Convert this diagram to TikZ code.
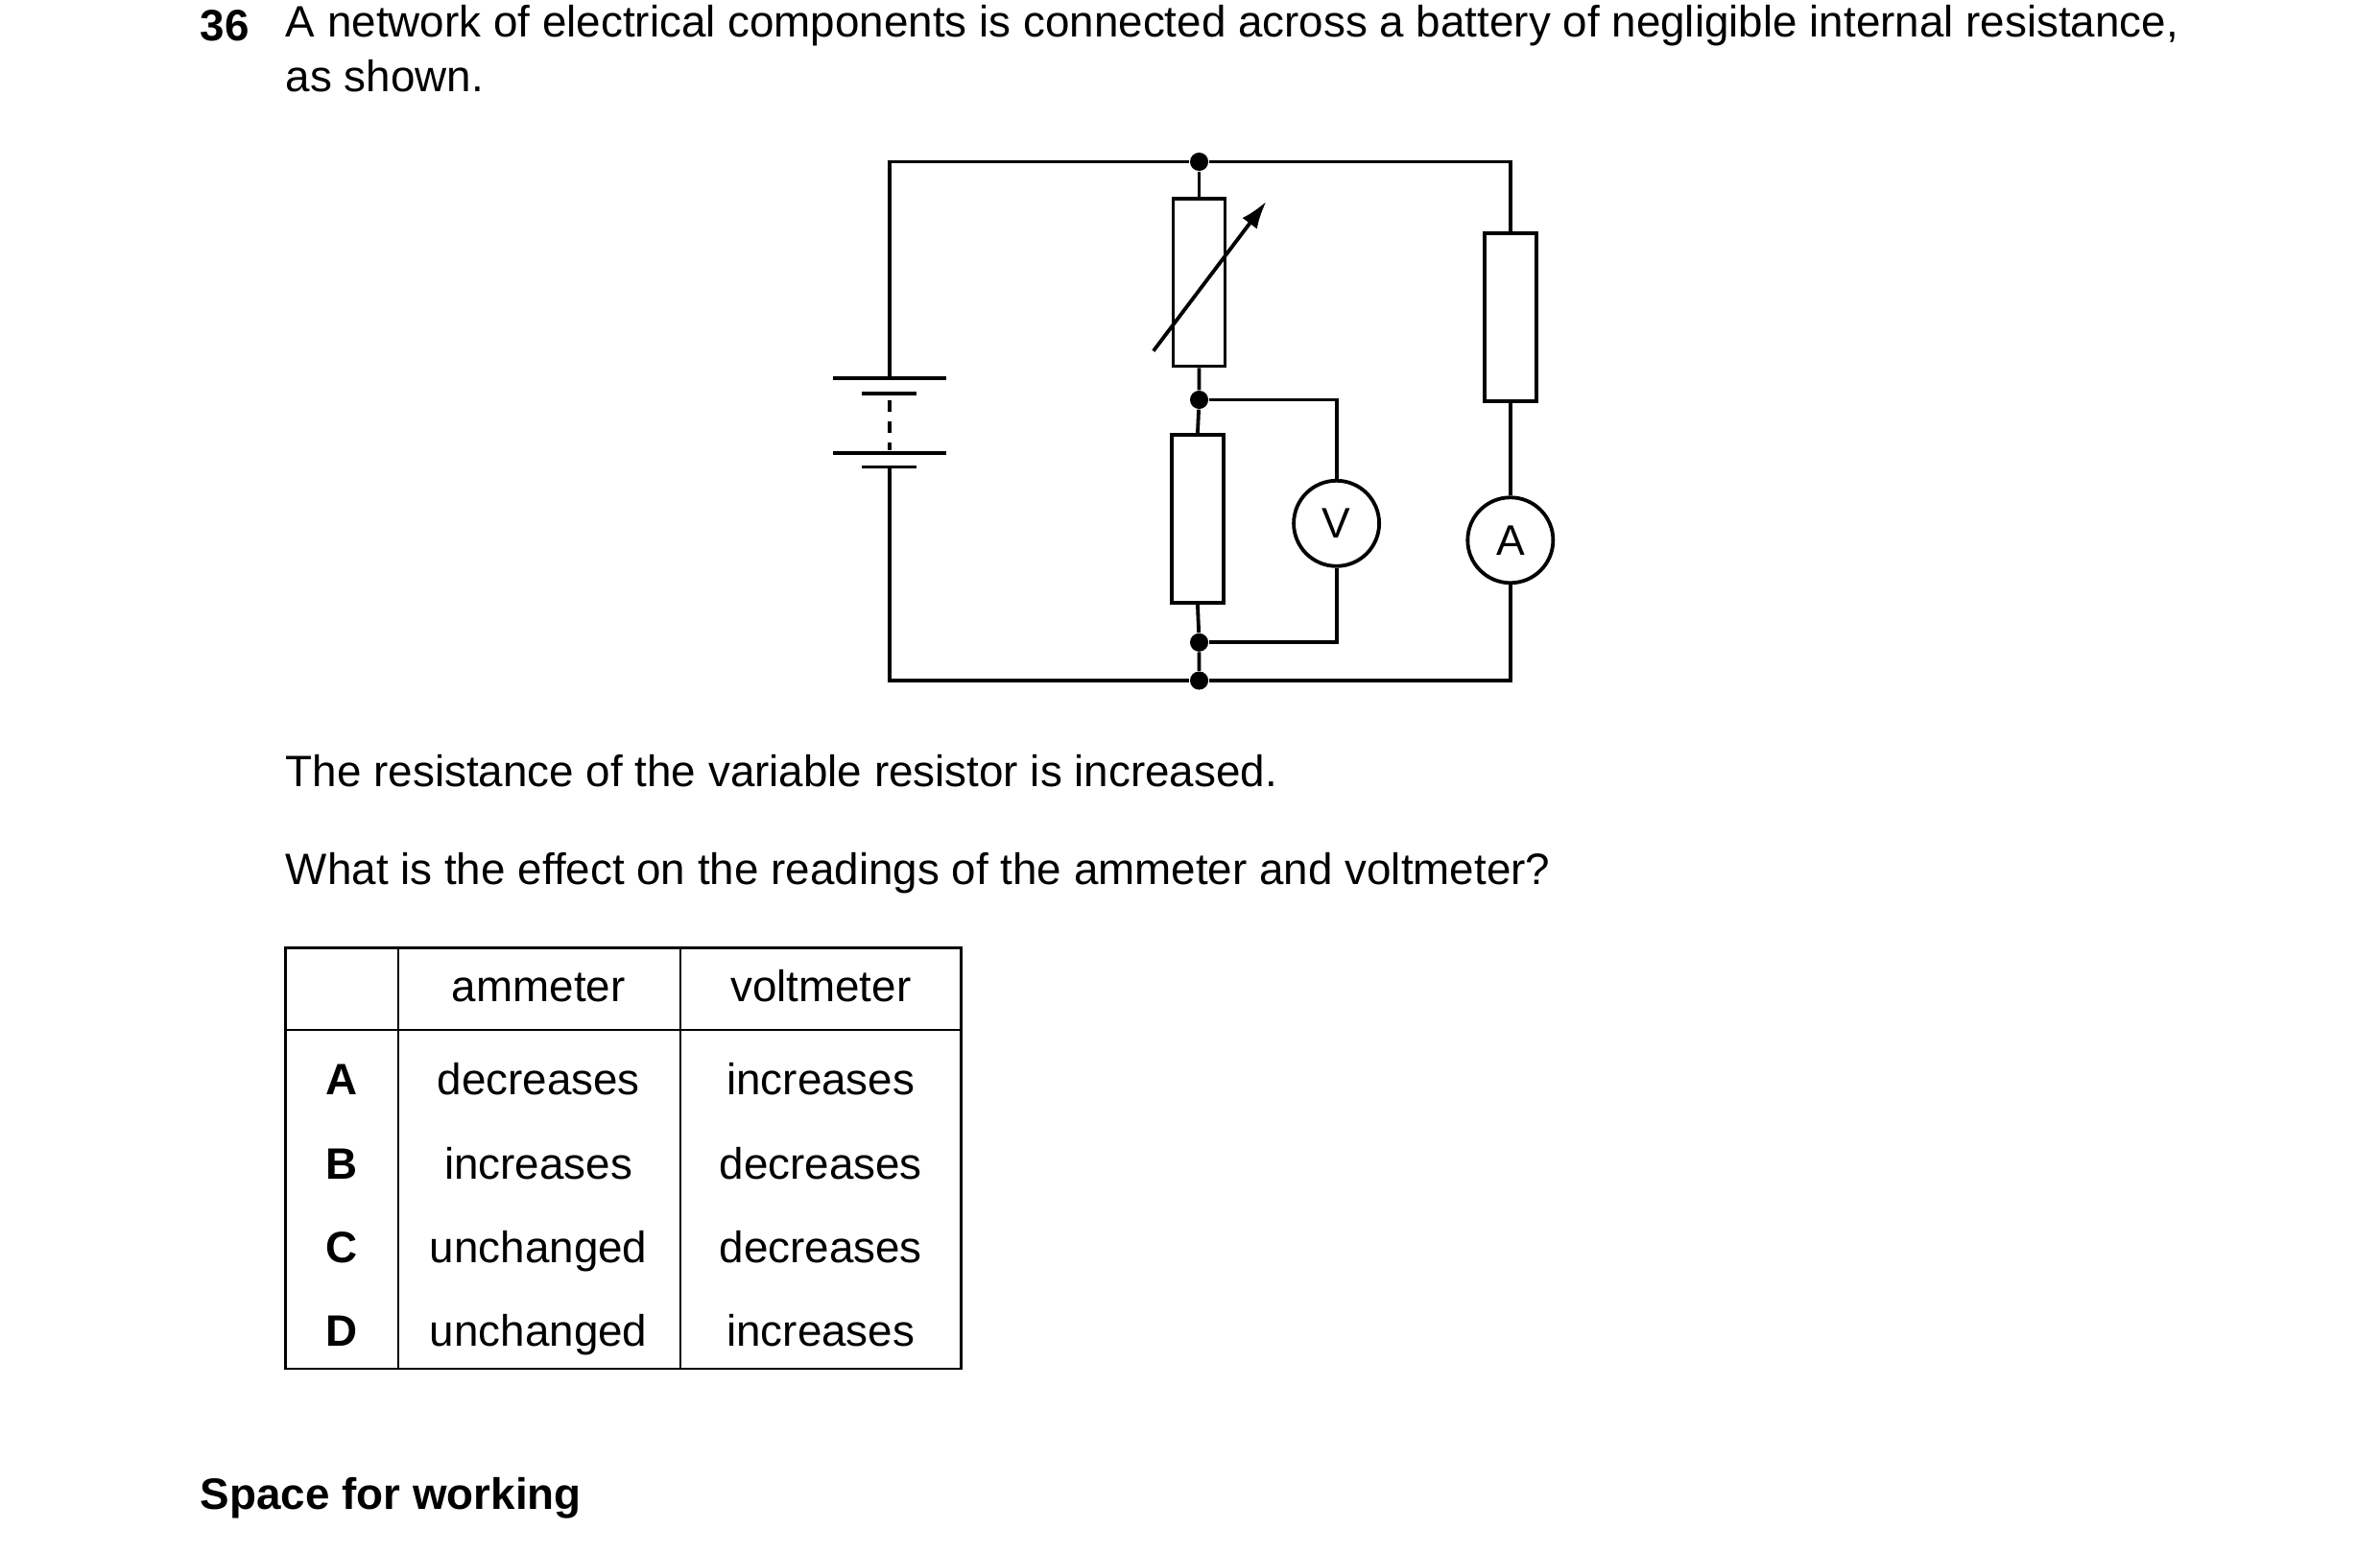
\documentclass[tikz,border=0pt]{standalone}
\usepackage{fontspec}
\setmainfont{Liberation Sans}
\usetikzlibrary{arrows.meta}
\tikzset{
  wire/.style={line width=1.2pt},
  res/.style={draw,line width=1.2pt,minimum width=17pt,minimum height=55pt,inner sep=0pt},
  meter/.style={draw,circle,line width=1.2pt,minimum size=28pt,inner sep=0pt,font=\fontsize{14}{16}\selectfont},
  dot/.style={circle,fill,inner sep=0pt,minimum size=6pt},
  txt/.style={anchor=west,inner sep=0pt,font=\fontsize{14.4}{17}\selectfont},
  cell/.style={inner sep=0pt,text height=10.5pt,text depth=3pt,font=\fontsize{14.4}{17}\selectfont}
}
\begin{document}
\begin{tikzpicture}[x=0.5pt,y=-0.5pt]
        \useasboundingbox (0,0) rectangle (1560,1018);
        % question text
        \node[txt,font=\fontsize{14.4}{17}\selectfont\bfseries] (num) at (131,17) {36};
        \node[txt] (q1) at (187,17) {A network of electrical components is connected across a battery of negligible internal resistance,};
        \node[txt] (q2) at (187,50) {as shown.};
        % circuit corners and junctions
        \coordinate (tl) at (583,106);
        \coordinate (bl) at (583,446);
        \coordinate (tr) at (990,106);
        \coordinate (br) at (990,446);
        \node[dot] (jt) at (786,106) {};
        \node[dot] (jm) at (786,262) {};
        \node[dot] (jl) at (786,421) {};
        \node[dot] (jb) at (786,446) {};
        \node[res] (vr) at (786,185) {};
        \node[res] (r1) at (785,340) {};
        \node[res] (r2) at (990,208) {};
        \node[meter] (vm) at (876,343) {V};
        \node[meter] (am) at (990,354) {A};
        \coordinate (vt) at (876,262);
        \coordinate (vb) at (876,421);
        % battery
        \coordinate (bt) at (583,248);
        \draw[wire] (546,248) -- (620,248);
        \draw[wire] (565,258) -- (601,258);
        \draw[wire] (546,297) -- (620,297);
        \draw[wire] (565,306) -- (601,306);
        \draw[wire,dash pattern=on 4pt off 3pt] (583,262) -- (583,295);
        % wires
        \draw[wire] (bt) -- (tl) -- (jt) -- (tr) -- (r2.north);
        \draw[wire] (583,306) -- (bl) -- (jb) -- (br) -- (am.south);
        \draw[wire] (r2.south) -- (am.north);
        \draw[wire] (jt) -- (vr.north);
        \draw[wire] (vr.south) -- (jm) -- (r1.north);
        \draw[wire] (r1.south) -- (jl) -- (jb);
        \draw[wire] (jm) -- (vt) -- (vm.north);
        \draw[wire] (vm.south) -- (vb) -- (jl);
        \draw[wire,-{Latex[length=9pt,width=6pt]}] (756,230) -- (830,132);
        % text below
        \node[txt] (q3) at (187,505) {The resistance of the variable resistor is increased.};
        \node[txt] (q4) at (187,572) {What is the effect on the readings of the ammeter and voltmeter?};
        % table
        \draw[line width=0.8pt] (187,621) rectangle (630,897);
        \draw[line width=0.8pt] (187,675) -- (630,675);
        \draw[line width=0.8pt] (261,621) -- (261,897);
        \draw[line width=0.8pt] (446,621) -- (446,897);
        \node[cell] (ha) at (353,649) {ammeter};
        \node[cell] (hv) at (538,649) {voltmeter};
        \foreach \l/\a/\v [count=\i from 0] in {A/decreases/increases,B/increases/decreases,C/unchanged/decreases,D/unchanged/increases}{
          \node[cell,font=\fontsize{14.4}{17}\selectfont\bfseries] (k\l) at (224,710+55*\i) {\l};
          \node[cell] (a\l) at (353,710+55*\i) {\a};
          \node[cell] (v\l) at (538,710+55*\i) {\v};
        }
        \node[txt,font=\fontsize{14.4}{17}\selectfont\bfseries] (sw) at (131,982) {Space for working};
\end{tikzpicture}
\end{document}
